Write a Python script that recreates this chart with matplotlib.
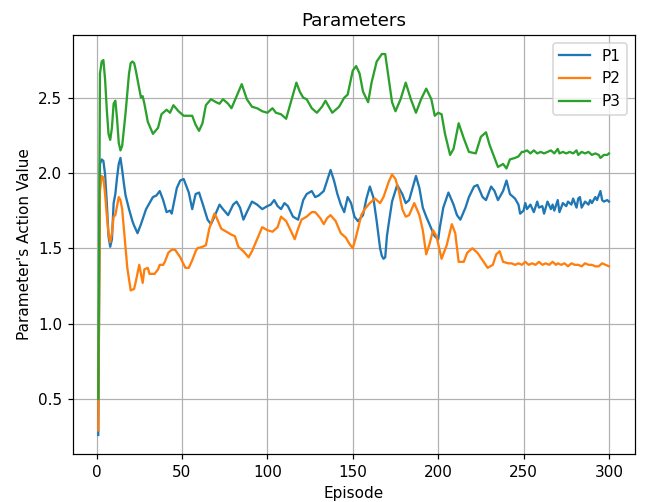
import matplotlib
matplotlib.use('Agg')
import matplotlib.pyplot as plt

p1_episodes = [1, 2, 3, 4, 5, 6, 7, 8, 9, 10, 11, 12, 13, 14, 15, 16, 17, 19, 21, 22, 24, 26, 29, 31, 33,
               35, 37, 39, 41, 43, 44, 47, 49, 51, 53, 54, 56, 58, 60, 62, 65, 67, 69, 72, 74, 77, 80, 82,
               84, 86, 88, 91, 94, 97, 100, 102, 104, 106, 108, 110, 112, 115, 118, 121, 123, 126, 128, 130,
               133, 135, 137, 139, 141, 143, 145, 147, 149, 151, 153, 156, 158, 160, 162, 164, 166, 167, 168,
               169, 170, 171, 173, 176, 179, 181, 183, 187, 189, 191, 193, 196, 198, 200, 201, 203, 206, 209,
               211, 213, 216, 218, 221, 223, 226, 228, 231, 233, 235, 238, 240, 242, 245, 247, 248, 250, 251,
               252, 254, 256, 258, 259, 261, 262, 264, 266, 267, 268, 270, 271, 273, 275, 276, 278, 279, 281,
               282, 283, 284, 286, 288, 289, 290, 292, 293, 295, 296, 297, 299, 300]
p1_values = [0.26, 2.06, 2.09, 2.08, 1.99, 1.80, 1.58, 1.51, 1.56, 1.80, 1.86, 1.97, 2.06, 2.10, 2.02, 1.93,
             1.85, 1.76, 1.68, 1.65, 1.60, 1.66, 1.76, 1.80, 1.84, 1.85, 1.88, 1.82, 1.74, 1.75, 1.73, 1.90,
             1.95, 1.96, 1.90, 1.87, 1.76, 1.86, 1.87, 1.80, 1.69, 1.66, 1.71, 1.79, 1.76, 1.72, 1.79, 1.81,
             1.77, 1.69, 1.74, 1.81, 1.79, 1.76, 1.78, 1.79, 1.82, 1.78, 1.76, 1.80, 1.78, 1.71, 1.69, 1.82,
             1.86, 1.88, 1.84, 1.85, 1.88, 1.95, 2.02, 1.95, 1.86, 1.79, 1.74, 1.84, 1.80, 1.71, 1.68, 1.72,
             1.83, 1.91, 1.84, 1.68, 1.50, 1.45, 1.43, 1.44, 1.58, 1.66, 1.81, 1.92, 1.86, 1.80, 1.82, 1.98,
             1.90, 1.77, 1.71, 1.63, 1.58, 1.56, 1.64, 1.77, 1.87, 1.79, 1.72, 1.69, 1.77, 1.84, 1.91, 1.92,
             1.84, 1.82, 1.91, 1.88, 1.82, 1.88, 1.95, 1.86, 1.83, 1.79, 1.73, 1.75, 1.80, 1.76, 1.79, 1.74,
             1.81, 1.77, 1.78, 1.73, 1.81, 1.76, 1.79, 1.75, 1.82, 1.74, 1.80, 1.78, 1.81, 1.79, 1.83, 1.77,
             1.83, 1.84, 1.77, 1.81, 1.79, 1.82, 1.80, 1.84, 1.82, 1.88, 1.82, 1.81, 1.82, 1.81]

p2_episodes = [1, 2, 3, 4, 5, 6, 7, 8, 9, 10, 11, 12, 13, 14, 15, 16, 17, 18, 20, 22, 23, 25, 27, 28, 30,
               31, 34, 36, 37, 39, 40, 42, 44, 46, 49, 52, 54, 56, 58, 59, 62, 64, 66, 69, 70, 73, 76, 79,
               81, 83, 86, 89, 91, 94, 97, 100, 103, 106, 108, 111, 114, 116, 118, 120, 123, 126, 128, 131,
               133, 135, 137, 140, 143, 146, 148, 150, 152, 155, 157, 160, 163, 166, 168, 171, 173, 175, 177,
               179, 181, 183, 186, 189, 191, 193, 195, 197, 199, 202, 205, 208, 210, 212, 215, 217, 220, 223,
               226, 229, 232, 234, 236, 238, 241, 243, 245, 247, 249, 251, 253, 255, 257, 259, 261, 263, 265,
               267, 269, 270, 272, 274, 276, 278, 280, 282, 284, 286, 288, 290, 292, 294, 296, 298, 300]
p2_values = [0.29, 1.88, 1.98, 1.97, 1.86, 1.72, 1.60, 1.54, 1.60, 1.71, 1.72, 1.78, 1.84, 1.82, 1.76, 1.63,
             1.50, 1.37, 1.22, 1.23, 1.28, 1.39, 1.27, 1.36, 1.37, 1.33, 1.33, 1.36, 1.39, 1.39, 1.41, 1.47,
             1.49, 1.49, 1.44, 1.37, 1.37, 1.42, 1.48, 1.50, 1.51, 1.52, 1.63, 1.73, 1.71, 1.63, 1.61, 1.59,
             1.58, 1.51, 1.48, 1.44, 1.48, 1.56, 1.64, 1.62, 1.61, 1.64, 1.71, 1.68, 1.61, 1.56, 1.63, 1.69,
             1.71, 1.74, 1.74, 1.70, 1.66, 1.70, 1.72, 1.68, 1.60, 1.57, 1.53, 1.50, 1.58, 1.72, 1.76, 1.80,
             1.83, 1.80, 1.84, 1.94, 1.99, 1.96, 1.88, 1.76, 1.71, 1.72, 1.80, 1.72, 1.62, 1.46, 1.53, 1.62,
             1.58, 1.43, 1.52, 1.66, 1.60, 1.41, 1.41, 1.47, 1.50, 1.47, 1.42, 1.37, 1.39, 1.46, 1.48, 1.41,
             1.40, 1.40, 1.39, 1.40, 1.39, 1.41, 1.39, 1.40, 1.39, 1.41, 1.39, 1.40, 1.39, 1.41, 1.39, 1.40,
             1.39, 1.40, 1.38, 1.40, 1.39, 1.39, 1.38, 1.40, 1.39, 1.39, 1.38, 1.38, 1.40, 1.39, 1.38]

p3_episodes = [1, 2, 3, 4, 5, 6, 7, 8, 9, 10, 11, 12, 13, 14, 15, 17, 19, 20, 21, 22, 23, 24, 25, 26, 27,
               28, 30, 33, 36, 38, 41, 43, 45, 48, 51, 54, 56, 58, 60, 62, 64, 67, 70, 72, 74, 77, 79, 82,
               85, 88, 91, 94, 97, 100, 103, 105, 108, 111, 114, 117, 119, 121, 123, 126, 129, 132, 134,
               136, 138, 142, 145, 147, 150, 152, 154, 156, 159, 161, 164, 167, 169, 171, 173, 175, 178, 181,
               184, 187, 190, 193, 196, 198, 200, 202, 204, 207, 209, 212, 215, 218, 222, 225, 228, 230, 233,
               235, 238, 240, 242, 245, 247, 249, 250, 252, 254, 256, 258, 260, 262, 264, 266, 268, 270, 271,
               273, 275, 277, 279, 281, 282, 284, 286, 288, 290, 292, 294, 295, 297, 299, 300]
p3_values = [0.50, 2.66, 2.74, 2.75, 2.62, 2.42, 2.26, 2.22, 2.30, 2.46, 2.48, 2.36, 2.20, 2.15, 2.18, 2.40,
             2.66, 2.73, 2.74, 2.73, 2.68, 2.62, 2.56, 2.50, 2.51, 2.46, 2.34, 2.26, 2.30, 2.39, 2.42, 2.40,
             2.45, 2.41, 2.38, 2.38, 2.38, 2.32, 2.28, 2.33, 2.45, 2.49, 2.47, 2.46, 2.49, 2.46, 2.43, 2.51,
             2.59, 2.49, 2.44, 2.43, 2.41, 2.40, 2.43, 2.40, 2.39, 2.36, 2.48, 2.60, 2.54, 2.50, 2.49, 2.43,
             2.40, 2.44, 2.48, 2.44, 2.40, 2.44, 2.50, 2.52, 2.68, 2.71, 2.66, 2.54, 2.47, 2.60, 2.74, 2.79,
             2.79, 2.63, 2.47, 2.41, 2.49, 2.60, 2.49, 2.40, 2.49, 2.56, 2.49, 2.38, 2.40, 2.39, 2.26, 2.12,
             2.16, 2.33, 2.23, 2.14, 2.13, 2.24, 2.27, 2.19, 2.10, 2.04, 2.06, 2.03, 2.09, 2.10, 2.11, 2.14,
             2.14, 2.15, 2.13, 2.15, 2.13, 2.14, 2.13, 2.14, 2.15, 2.13, 2.16, 2.13, 2.14, 2.13, 2.14, 2.13,
             2.15, 2.12, 2.14, 2.13, 2.14, 2.12, 2.13, 2.12, 2.10, 2.12, 2.12, 2.13]

DPI = 110


def main():
  fig = plt.figure(figsize=(647 / DPI, 502 / DPI), dpi=DPI)
  ax = fig.add_axes([0.1124, 0.0956, 0.8683, 0.8347])

  ax.plot(p1_episodes, p1_values, label='P1')
  ax.plot(p2_episodes, p2_values, label='P2')
  ax.plot(p3_episodes, p3_values, label='P3')

  ax.set_xticks([0, 50, 100, 150, 200, 250, 300])
  ax.set_yticks([0.5, 1.0, 1.5, 2.0, 2.5])
  ax.grid(True)
  ax.legend(loc='upper right')

  ax.set_xlabel('Episode')
  ax.set_ylabel("Parameter's Action Value")
  ax.set_title('Parameters')

  fig.savefig('out.png', dpi=DPI)


if __name__ == '__main__':
  main()
